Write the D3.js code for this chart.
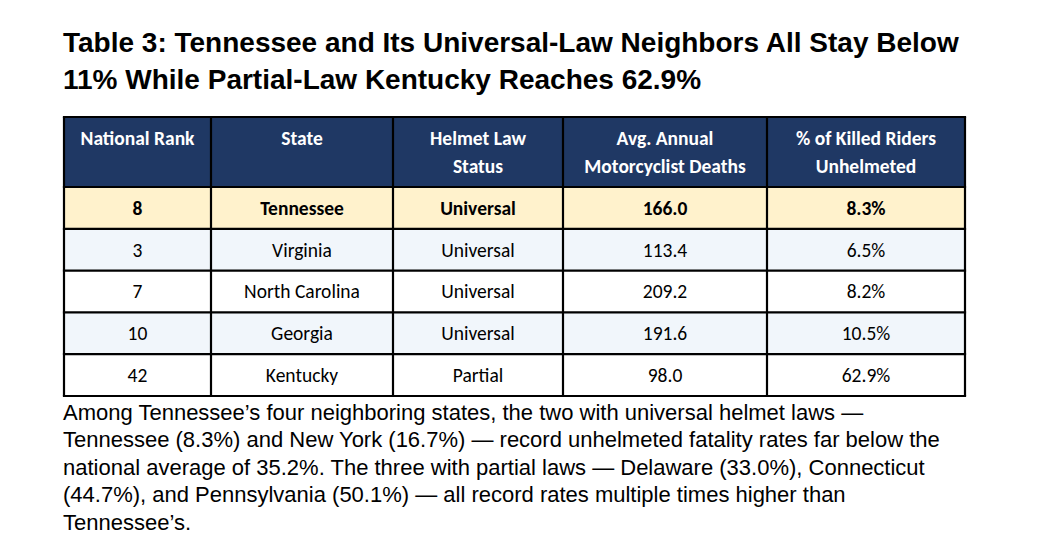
<!DOCTYPE html>
<html>
<head>
<meta charset="utf-8">
<script src="https://cdn.jsdelivr.net/npm/d3@7"></script>
<style>
  body { margin: 0; background: #fff; }
  svg { display: block; }
</style>
</head>
<body>
<svg id="chart" width="1042" height="560"></svg>
<script>
// table data
var headers = [
    ["National Rank"],
    ["State"],
    ["Helmet Law", "Status"],
    ["Avg. Annual", "Motorcyclist Deaths"],
    ["% of Killed Riders", "Unhelmeted"]
];
var ranks = [8, 3, 7, 10, 42];
var states = ["Tennessee", "Virginia", "North Carolina", "Georgia", "Kentucky"];
var lawStatus = ["Universal", "Universal", "Universal", "Universal", "Partial"];
var avgDeaths = [166.0, 113.4, 209.2, 191.6, 98.0];
var pctUnhelmeted = [8.3, 6.5, 8.2, 10.5, 62.9];

var titleLines = [
    "Table 3: Tennessee and Its Universal-Law Neighbors All Stay Below",
    "11% While Partial-Law Kentucky Reaches 62.9%"
];
var captionLines = [
    "Among Tennessee\u2019s four neighboring states, the two with universal helmet laws \u2014",
    "Tennessee (8.3%) and New York (16.7%) \u2014 record unhelmeted fatality rates far below the",
    "national average of 35.2%. The three with partial laws \u2014 Delaware (33.0%), Connecticut",
    "(44.7%), and Pennsylvania (50.1%) \u2014 all record rates multiple times higher than",
    "Tennessee\u2019s."
];

// build rows
var rows = ranks.map((r, i) => [
    String(r),
    states[i],
    lawStatus[i],
    avgDeaths[i].toFixed(1),
    pctUnhelmeted[i].toFixed(1) + "%"
]);

var svg = d3.select("#chart");

// layout
var tLeft = 64, tTop = 117, headerH = 70, tRight = 965, tBottom = 396;
var colWidths = [147, 182, 170, 204, 198];
var colEdges = [tLeft];
colWidths.forEach(w => colEdges.push(colEdges[colEdges.length - 1] + w));

var x = d3.scaleOrdinal().domain(d3.range(colWidths.length)).range(colEdges.slice(0, -1));
var y = d3.scaleBand()
    .domain(d3.range(rows.length))
    .range([tTop + headerH, tBottom])
    .padding(0);

var rowFill = i => i === 0 ? "#FFF2CC" : (i % 2 === 1 ? "#F1F6FB" : "#FFFFFF");
var tableFont = "Carlito, Calibri, Lato, 'Open Sans', sans-serif";
var tableSize = 19.5;

// title
svg.append("g").selectAll("text")
    .data(titleLines)
    .join("text")
    .attr("x", 63)
    .attr("y", (d, i) => 52 + i * 36.5)
    .attr("font-family", "'Liberation Sans', Arial, sans-serif")
    .attr("font-weight", "bold")
    .attr("font-size", 28)
    .attr("fill", "#000")
    .text(d => d);

// header
var head = svg.append("g");
head.append("rect")
    .attr("x", tLeft).attr("y", tTop)
    .attr("width", tRight - tLeft).attr("height", headerH)
    .attr("fill", "#1F3864");

head.selectAll("text")
    .data(headers)
    .join("text")
    .attr("text-anchor", "middle")
    .attr("font-family", tableFont)
    .attr("font-weight", "bold")
    .attr("font-size", tableSize)
    .attr("fill", "#fff")
    .each(function(d, i) {
        d3.select(this).selectAll("tspan")
            .data(d)
            .join("tspan")
            .attr("x", x(i) + colWidths[i] / 2)
            .attr("y", (t, j) => tTop + 28 + j * 28)
            .text(t => t);
    });

// body
var body = svg.append("g");
var rowG = body.selectAll("g")
    .data(rows)
    .join("g")
    .attr("transform", (d, i) => "translate(0," + y(i) + ")");

rowG.append("rect")
    .attr("x", tLeft)
    .attr("width", tRight - tLeft)
    .attr("height", y.bandwidth())
    .attr("fill", (d, i) => rowFill(i));

rowG.selectAll("text")
    .data((d, i) => d.map(v => ({ v: v, row: i })))
    .join("text")
    .attr("x", (d, j) => x(j) + colWidths[j] / 2)
    .attr("y", y.bandwidth() / 2)
    .attr("dy", "0.35em")
    .attr("text-anchor", "middle")
    .attr("font-family", tableFont)
    .attr("font-weight", d => d.row === 0 ? "bold" : "normal")
    .attr("font-size", tableSize)
    .attr("fill", "#000")
    .text(d => d.v);

// grid lines
var grid = svg.append("g")
    .attr("stroke", "#000")
    .attr("stroke-width", 2.2);

grid.selectAll(".v")
    .data(colEdges)
    .join("line")
    .attr("x1", d => d).attr("x2", d => d)
    .attr("y1", tTop).attr("y2", tBottom);

var hLines = [tTop].concat(d3.range(rows.length).map(i => y(i))).concat([tBottom]);
grid.selectAll(".h")
    .data(hLines)
    .join("line")
    .attr("x1", tLeft - 1.1).attr("x2", tRight + 1.1)
    .attr("y1", d => d).attr("y2", d => d);

// caption
svg.append("g").selectAll("text")
    .data(captionLines)
    .join("text")
    .attr("x", 63)
    .attr("y", (d, i) => 420 + i * 27.4)
    .attr("font-family", "'Liberation Sans', Arial, sans-serif")
    .attr("font-size", 22)
    .attr("fill", "#000")
    .text(d => d);
</script>
</body>
</html>
